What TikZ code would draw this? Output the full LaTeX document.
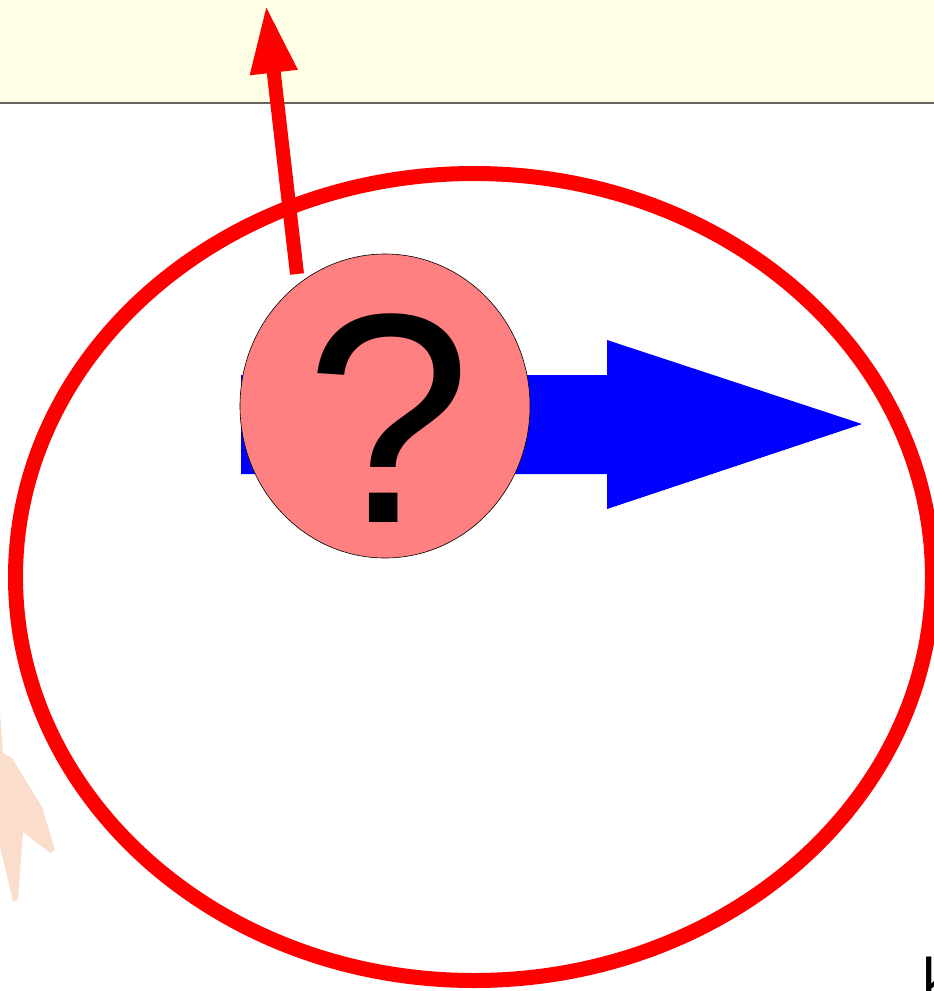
\documentclass[tikz,border=0pt]{standalone}
\usepackage{fontspec}
\setmainfont{Liberation Sans}
\usetikzlibrary{arrows.meta,shapes.geometric}
\definecolor{bandyellow}{HTML}{FFFFE5}
\definecolor{bandline}{HTML}{666660}
\definecolor{pinkfill}{HTML}{FF8080}
\definecolor{handorange}{HTML}{FBDDCC}
\tikzset{
  redline/.style={draw=red, line width=14pt},
  bluearrow/.style={fill=blue, draw=none},
  qmark/.style={font=\fontsize{299}{310}\selectfont, inner sep=0pt, anchor=base},
}
\begin{document}
\begin{tikzpicture}[x=1pt,y=-1pt]
\useasboundingbox (0,0) rectangle (934,991);
\clip (0,0) rectangle (934,991);
% top band
\fill[bandyellow] (0,0) rectangle (934,102);
\draw[bandline, line width=1.8pt] (0,103) -- (934,103);
% faint hand shape
\fill[handorange] (0,713) -- (3,753) -- (12,758) -- (42,807) -- (55,850) -- (50,853) -- (23,832) -- (18,900) -- (13,902) -- (5,867) -- (0,847) -- cycle;
% big red ellipse
\node[draw=red, line width=15pt, shape=ellipse, minimum width=917pt, minimum height=807pt, inner sep=0pt] (ring) at (474,577) {};
% blue block arrow
\fill[bluearrow] (241,375) -- (607,375) -- (607,340) -- (862,424) -- (607,509) -- (607,474) -- (241,474) -- cycle;
% red arrow
\coordinate (rstart) at (297,274);
\coordinate (rtip) at (266,5);
\draw[redline, -{Triangle[length=68pt,width=44pt]}] (rstart) -- (rtip);
% pink circle
\node[shape=ellipse, fill=pinkfill, draw=black, line width=0.6pt, minimum width=290pt, minimum height=304pt, inner sep=0pt] (q) at (385,406) {};
\node[qmark] (qm) at (389,522) {?};
% clipped text bottom right
\node[font=\fontsize{60}{70}\selectfont, inner sep=0pt, anchor=base west] (k) at (922,1000) {k};
\end{tikzpicture}
\end{document}
